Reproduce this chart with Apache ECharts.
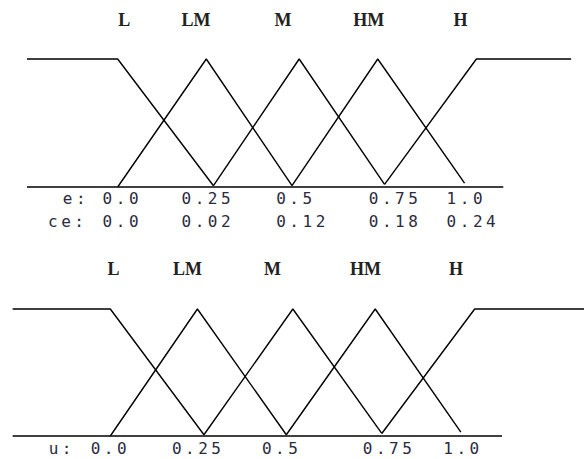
<!DOCTYPE html>
<html>
<head>
<meta charset="utf-8">
<title>membership functions</title>
<script src="https://cdn.jsdelivr.net/npm/echarts@6/dist/echarts.min.js"></script>
<style>
    html, body { margin: 0; padding: 0; background: #fff; }
    #main { width: 584px; height: 459px; }
    /* the tick rows use a wide monospaced look */
    #main text[style*="Sans Mono"] { letter-spacing: 3.5px; }
</style>
</head>
<body>
<div id="main"></div>
<script>
// fuzzy set names
var setNames = ['L', 'LM', 'M', 'HM', 'H'];

// upper chart: breakpoints [e, membership] of every set
var eL = [[-0.253, 1], [0, 1], [0.267, 0.01]];
var eLM = [[0, 0], [0.247, 1], [0.486, 0.01]];
var eM = [[0.267, 0.01], [0.506, 1], [0.744, 0.02]];
var eHM = [[0.486, 0.01], [0.725, 1], [0.967, 0.03]];
var eH = [[0.744, 0.02], [1, 1], [1.264, 1]];
var eBase = [[-0.253, 0], [1.075, 0]];
// upper chart: where the set names and the two tick rows sit
var eNameTicks = [0.018, 0.218, 0.461, 0.7, 0.956];
var eTicks = [-0.153, -0.042, 0.178, 0.442, 0.7, 0.917];
var eTickText = ['e:', '0.0', '0.25', '0.5', '0.75', '1.0'];
var ceTicks = [-0.194, -0.042, 0.178, 0.442, 0.7, 0.917];
var ceTickText = ['ce:', '0.0', '0.02', '0.12', '0.18', '0.24'];

// lower chart: breakpoints [u, membership]
var uL = [[-0.268, 1], [0, 1], [0.257, 0.01]];
var uLM = [[0, 0], [0.239, 1], [0.483, 0.01]];
var uM = [[0.257, 0.01], [0.501, 1], [0.745, 0.02]];
var uHM = [[0.483, 0.01], [0.727, 1], [0.962, 0.03]];
var uH = [[0.745, 0.02], [1, 1], [1.3, 1]];
var uBase = [[-0.268, 0], [1.075, 0]];
var uNameTicks = [0.009, 0.212, 0.445, 0.7, 0.949];
var uTicks = [-0.169, -0.054, 0.169, 0.416, 0.693, 0.914];
var uTickText = ['u:', '0.0', '0.25', '0.5', '0.75', '1.0'];

var monoFont = 'DejaVu Sans Mono';
var nameFont = 'Liberation Serif';

function textAt(ticks, texts) {
    return function (value) {
        for (var i = 0; i < ticks.length; i++) {
            if (Math.abs(ticks[i] - value) < 1e-6) {
                return texts[i];
            }
        }
        return '';
    };
}

function xAxis(grid, position, min, max, ticks, texts, margin, offset, font, size) {
    return {
        type: 'value',
        gridIndex: grid,
        position: position,
        offset: offset,
        min: min,
        max: max,
        axisLine: {show: false},
        axisTick: {show: false},
        splitLine: {show: false},
        axisLabel: {
            customValues: ticks,
            formatter: textAt(ticks, texts),
            margin: margin,
            align: position === 'top' ? 'center' : 'left',
            color: position === 'top' ? '#222' : '#2a2a40',
            fontFamily: font,
            fontWeight: position === 'top' ? 'bold' : 'normal',
            fontSize: size
        }
    };
}

function yAxis(grid) {
    return {
        type: 'value',
        gridIndex: grid,
        min: 0,
        max: 1,
        show: false
    };
}

function line(data, index) {
    return {
        type: 'line',
        xAxisIndex: index,
        yAxisIndex: index,
        data: data,
        showSymbol: false,
        clip: false,
        silent: true,
        lineStyle: {color: '#000', width: 1.4}
    };
}

var option = {
    animation: false,
    backgroundColor: '#fff',
    grid: [
        {left: 28, top: 59, width: 558, height: 128},
        {left: 1, top: 309, width: 597, height: 127}
    ],
    xAxis: [
        xAxis(0, 'bottom', -0.25, 1.3, eTicks, eTickText, 3.5, 0, monoFont, 16),
        xAxis(1, 'bottom', -0.3, 1.3, uTicks, uTickText, 4.5, 0, monoFont, 16),
        xAxis(0, 'top', -0.25, 1.3, eNameTicks, setNames, 30, 0, nameFont, 18),
        xAxis(0, 'bottom', -0.25, 1.3, ceTicks, ceTickText, 3.5, 23, monoFont, 16),
        xAxis(1, 'top', -0.3, 1.3, uNameTicks, setNames, 31.5, 0, nameFont, 18)
    ],
    yAxis: [yAxis(0), yAxis(1)],
    series: [
        line(eL, 0), line(eLM, 0), line(eM, 0), line(eHM, 0), line(eH, 0), line(eBase, 0),
        line(uL, 1), line(uLM, 1), line(uM, 1), line(uHM, 1), line(uH, 1), line(uBase, 1)
    ]
};

var myChart = echarts.init(document.getElementById('main'), null, {renderer: 'svg'});
myChart.setOption(option);
</script>
</body>
</html>
